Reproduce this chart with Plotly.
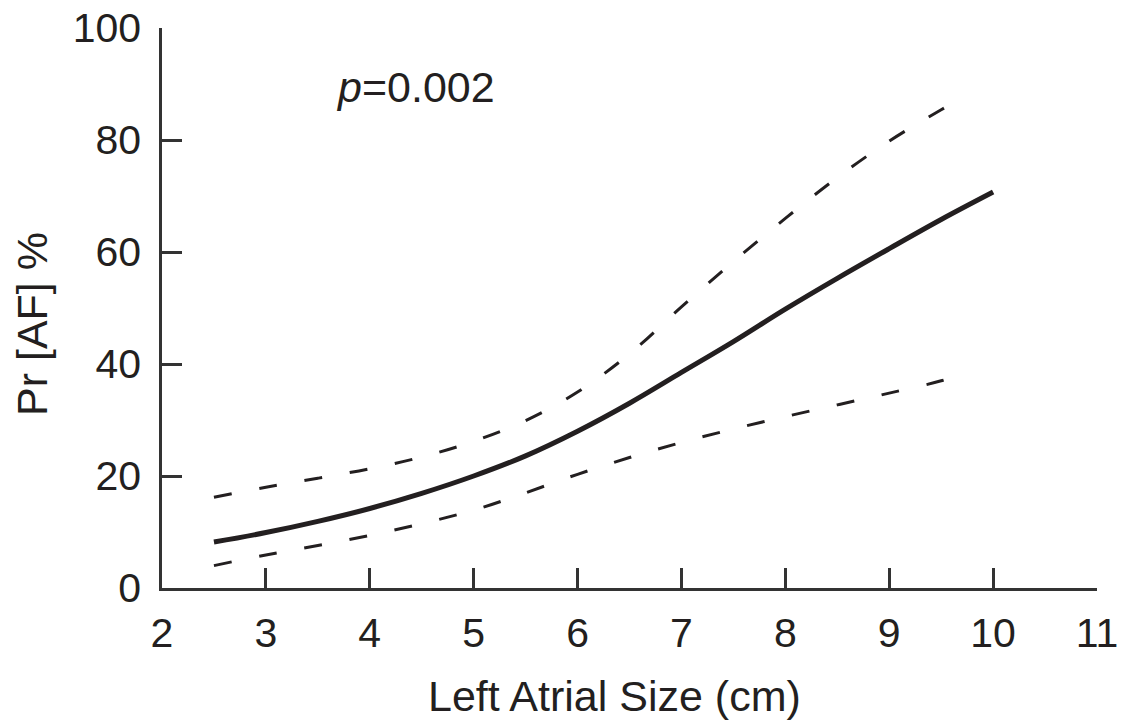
import plotly.graph_objects as go

# Fitted probability curve
x_fit = [2.5, 3.0, 3.5, 4.0, 4.5, 5.0, 5.5, 6.0, 6.5, 7.0, 7.5, 8.0, 8.5, 9.0, 9.5, 10.0]
y_fit = [8.2, 9.9, 11.9, 14.2, 16.9, 20.0, 23.6, 28.0, 33.0, 38.5, 44.0, 49.8, 55.3, 60.6, 65.8, 70.7]

# Confidence bands
x_ci = [2.5, 3.0, 3.5, 4.0, 4.5, 5.0, 5.5, 6.0, 6.5, 7.0, 7.5, 8.0, 8.5, 9.0, 9.5, 9.72]
y_upper = [16.2, 18.0, 19.6, 21.3, 23.4, 26.2, 29.9, 35.0, 41.8, 50.2, 58.3, 66.0, 73.3, 79.8, 85.4, 87.7]
y_lower = [4.0, 5.9, 7.6, 9.4, 11.5, 13.9, 17.0, 20.3, 23.3, 26.0, 28.4, 30.6, 32.7, 34.8, 37.0, 38.4]

x_ticks = [2, 3, 4, 5, 6, 7, 8, 9, 10, 11]
y_ticks = [0, 20, 40, 60, 80, 100]

x_title = "Left Atrial Size (cm)"
y_title = "Pr [AF] %"
p_text = "<i>p</i>=0.002"

FONT = "Liberation Sans, Arial, sans-serif"
INK = "#231f20"
AXIS = "#333333"

fig = go.Figure()
for yb in (y_upper, y_lower):
    fig.add_trace(go.Scatter(x=x_ci, y=yb, mode="lines",
                             line=dict(color=INK, width=3, dash="18px,28px", shape="spline"),
                             showlegend=False, hoverinfo="skip"))
fig.add_trace(go.Scatter(x=x_fit, y=y_fit, mode="lines",
                         line=dict(color=INK, width=5, shape="spline"),
                         showlegend=False))

axis_common = dict(ticks="inside", ticklen=20, tickwidth=2.5, tickcolor=AXIS,
                   showline=True, linewidth=2.5, linecolor=AXIS, showgrid=False,
                   zeroline=False, automargin=False, tickfont=dict(size=41))

fig.update_layout(
    width=1121, height=722,
    margin=dict(l=162, r=24, t=28, b=134),
    paper_bgcolor="white", plot_bgcolor="white",
    font=dict(family=FONT, color=INK, size=41),
    xaxis=dict(range=[2, 11], tickvals=x_ticks, ticklabelstandoff=7, **axis_common),
    yaxis=dict(range=[0, 100], tickvals=y_ticks, ticklabelstandoff=10, **axis_common),
    annotations=[
        dict(text=x_title, xref="paper", yref="paper", x=(614 - 162) / 935,
             y=-(696 - 588) / 560, xanchor="center", yanchor="middle",
             showarrow=False, font=dict(size=43)),
        dict(text=y_title, xref="paper", yref="paper", x=-(162 - 32) / 935,
             y=(588 - 324) / 560, xanchor="center", yanchor="middle",
             textangle=-90, showarrow=False, font=dict(size=43)),
        dict(text=p_text, xref="x", yref="y", x=3.66, y=(588 - 87) / 5.6,
             xanchor="left", yanchor="middle", showarrow=False,
             font=dict(size=43)),
    ],
)

fig.write_html("out.html")
